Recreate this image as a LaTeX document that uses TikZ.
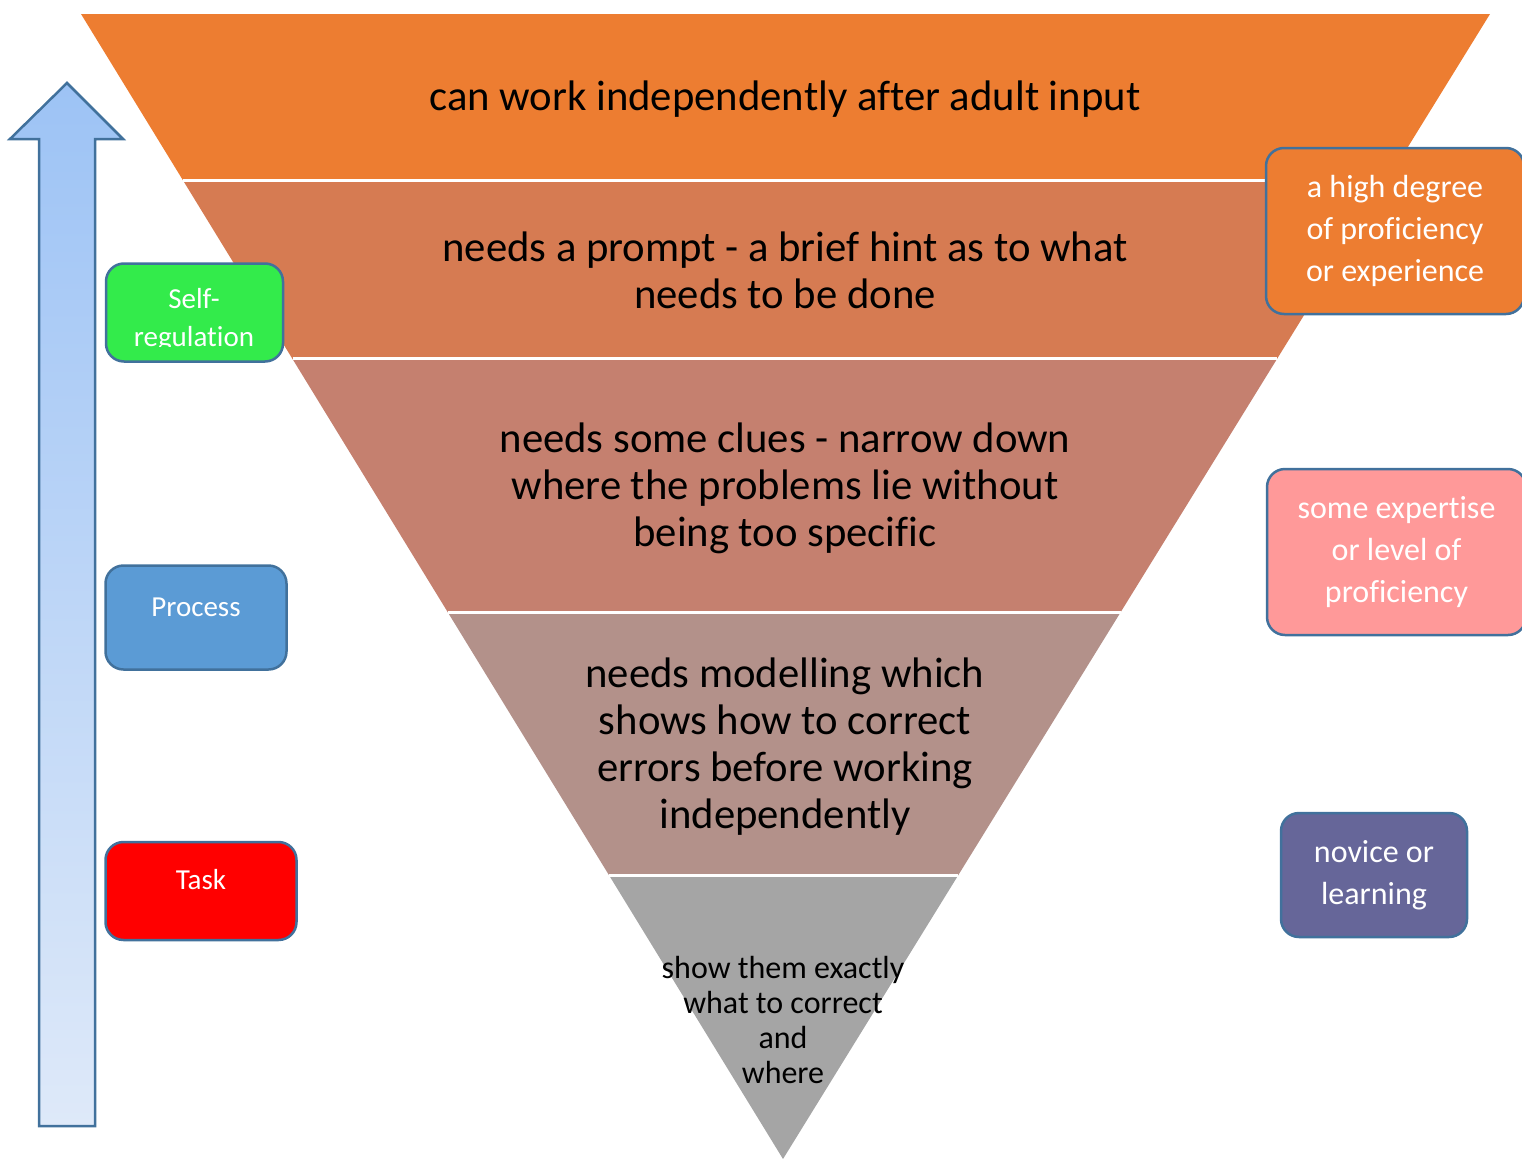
\documentclass[tikz,border=0pt]{standalone}
\usepackage{fontspec}
\setmainfont{Carlito}[Ligatures={NoCommon,NoRare,NoContextual,NoRequired}]
\usetikzlibrary{calc}

\definecolor{bandA}{HTML}{ED7D31}
\definecolor{bandB}{HTML}{D67B52}
\definecolor{bandC}{HTML}{C5806F}
\definecolor{bandD}{HTML}{B3918A}
\definecolor{bandE}{HTML}{A5A5A5}
\definecolor{edgeblue}{HTML}{41719C}
\definecolor{arrowtop}{HTML}{9DC3F5}
\definecolor{arrowbot}{HTML}{DEE9F9}
\definecolor{selfgreen}{HTML}{33EB4B}
\definecolor{procblue}{HTML}{5B9BD5}
\definecolor{pinkbox}{HTML}{FF9999}
\definecolor{novicebox}{HTML}{666699}

\begin{document}
\begin{tikzpicture}[x=1pt, y=-1pt,
  box/.style={draw=edgeblue, line width=2.5pt, rounded corners=18pt, text=white,
    align=center, inner sep=0pt, font=\fontsize{32}{42}\selectfont},
  boxtext/.style={text=white, align=center, inner sep=0pt, font=\fontsize{29}{38}\selectfont},
  level/.style={align=center, inner sep=0pt, font=\fontsize{42.7}{47}\selectfont}]

  \useasboundingbox (0,0) rectangle (1522,1159);

  % the funnel
  \coordinate (tl) at (81,14);
  \coordinate (tr) at (1490,14);
  \coordinate (ap) at (783,1159);
  \foreach \n/\t in {1/0.145, 2/0.3013, 3/0.5223, 4/0.7528} {
    \coordinate (l\n) at ($(tl)!\t!(ap)$);
    \coordinate (r\n) at ($(tr)!\t!(ap)$);
  }
  \fill[bandA] (tl) -- (tr) -- (r1) -- (l1) -- cycle;
  \fill[bandB] (l1) -- (r1) -- (r2) -- (l2) -- cycle;
  \fill[bandC] (l2) -- (r2) -- (r3) -- (l3) -- cycle;
  \fill[bandD] (l3) -- (r3) -- (r4) -- (l4) -- cycle;
  \fill[bandE] (l4) -- (r4) -- (ap) -- cycle;
  \foreach \n in {1,...,4}
    \draw[white, line width=3pt] (l\n) -- (r\n);

  \node[level] (t1) at (785,99) {can work independently after adult input};
  \node[level] (t2) at (785,270) {needs a prompt - a brief hint as to what\\needs to be done};
  \node[level] (t3) at (785,488) {needs some clues - narrow down\\where the problems lie without\\being too speci\kern0pt fic};
  \node[level] (t4) at (785,747) {needs modelling which\\shows how to correct\\errors before working\\independently};
  \node[level, font=\fontsize{32}{35.3}\selectfont] (t5) at (783,1020) {show them exactly\\what to correct\\and\\where};

  % the arrow
  \shadedraw[top color=arrowtop, bottom color=arrowbot, draw=edgeblue, line width=2.5pt]
    (39,1126) -- (39,139) -- (10,139) -- (67,83) -- (123,139) -- (95,139) -- (95,1126) -- cycle;

  % left boxes
  \node[box, fill=selfgreen, minimum width=177pt, minimum height=98pt] (selfreg) at (194.5,312.5) {};
  \begin{scope}
    \clip (106,264) rectangle (283,346);
    \node[boxtext] (selfregtext) at (194,320) {Self-\\regulation};
  \end{scope}
  \node[box, fill=procblue, minimum width=181pt, minimum height=104pt] (process) at (196,617.5) {};
  \node[boxtext] (processtext) at (196,607) {Process};
  \node[box, fill=red, minimum width=191pt, minimum height=98pt] (task) at (201,891) {};
  \node[boxtext] (tasktext) at (201,880) {Task};

  % right boxes
  \node[box, fill=bandA, minimum width=258pt, minimum height=166pt] (high) at (1395,231) {a high degree\\of profi\kern0pt ciency\\or experience};
  \node[box, fill=pinkbox, minimum width=259pt, minimum height=166pt] (some) at (1396.5,552) {some experti\kern0pt se\\or level of\\profi\kern0pt ciency};
  \node[box, fill=novicebox, minimum width=186pt, minimum height=124pt] (novice) at (1374,875) {novice or\\learning};
\end{tikzpicture}
\end{document}
